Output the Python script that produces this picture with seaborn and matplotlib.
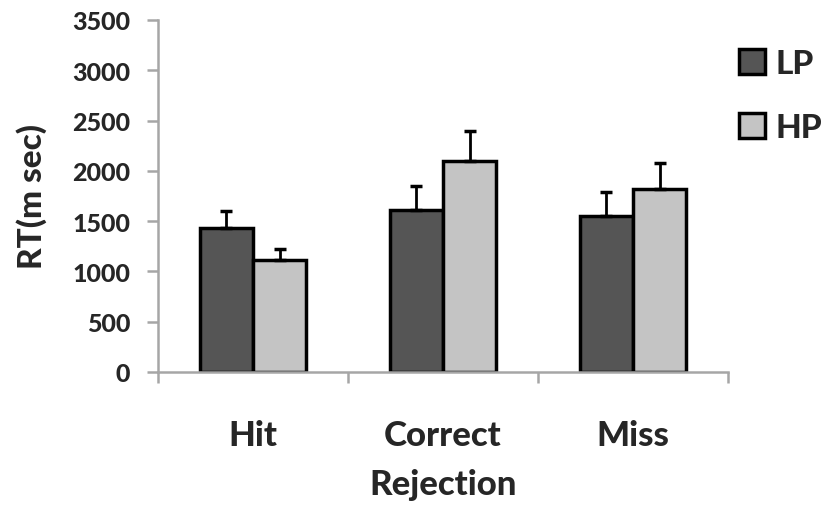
import numpy as np
import pandas as pd
import matplotlib
matplotlib.use("Agg")
import matplotlib.pyplot as plt
import seaborn as sns

conditions = ["Hit", "Correct\nRejection", "Miss"]
groups = ["LP", "HP"]
lp_rt = [1435, 1610, 1550]
hp_rt = [1110, 2100, 1815]
lp_err = [170, 240, 240]
hp_err = [115, 295, 265]
yticks = [0, 500, 1000, 1500, 2000, 2500, 3000, 3500]

PALETTE = {"LP": "#555555", "HP": "#c4c4c4"}
AXIS_GREY = "#a6a6a6"
W = 900

df = pd.DataFrame({
    "condition": conditions * 2,
    "group": ["LP"] * 3 + ["HP"] * 3,
    "rt": lp_rt + hp_rt,
})

sns.set_style("white")
plt.rcParams["font.family"] = ["Lato", "DejaVu Sans"]
plt.rcParams["font.weight"] = "bold"

fig = plt.figure(figsize=(8.25, 5.1), dpi=100)
ax = fig.add_axes([158 / 825, 1 - 373 / 510, 570 / 825, 352 / 510])

sns.barplot(data=df, x="condition", y="rt", hue="group", order=conditions,
            hue_order=groups, palette=PALETTE, saturation=1, width=0.56,
            gap=0, edgecolor="black", linewidth=2.5, errorbar=None, ax=ax)

for cont, errs in zip(ax.containers, [lp_err, hp_err]):
    xs = [b.get_x() + b.get_width() / 2 for b in cont]
    hs = [b.get_height() for b in cont]
    ax.errorbar(xs, hs, yerr=[np.zeros(len(errs)), errs], fmt="none",
                ecolor="black", elinewidth=2, capsize=4.3, capthick=2.5,
                zorder=1)

ax.set_xlim(-0.5, 2.5)
ax.set_ylim(0, 3500)
ax.set_xlabel("")
ax.set_ylabel("RT(m sec)", fontsize=24, fontweight=W, labelpad=18)

for s in ["top", "right"]:
    ax.spines[s].set_visible(False)
for s in ["left", "bottom"]:
    ax.spines[s].set_color(AXIS_GREY)
    ax.spines[s].set_linewidth(1.8)

ax.set_yticks(yticks, [str(v) for v in yticks], fontsize=18, fontweight=W)
ax.tick_params(axis="y", which="major", left=True, length=8, width=1.8,
               color=AXIS_GREY, pad=12)
ax.set_xticks([0, 1, 2], conditions, fontsize=25, fontweight=W,
              linespacing=1.65, va="top")
ax.set_xticks([-0.5, 0.5, 1.5, 2.5], minor=True)
ax.tick_params(axis="x", which="minor", bottom=True, length=8, width=1.8,
               color=AXIS_GREY)
ax.tick_params(axis="x", which="major", length=0, pad=34)

handles, labels = ax.get_legend_handles_labels()
leg = ax.legend(handles, labels, loc="upper left",
                bbox_to_anchor=(739 / 825, 1 - 50 / 510),
                bbox_transform=fig.transFigure, frameon=False, fontsize=24,
                handlelength=0.78, handleheight=0.78, handletextpad=0.3,
                labelspacing=1.05, borderpad=0, borderaxespad=0)
for t in leg.get_texts():
    t.set_fontweight(W)

fig.savefig("out.png", dpi=100)
